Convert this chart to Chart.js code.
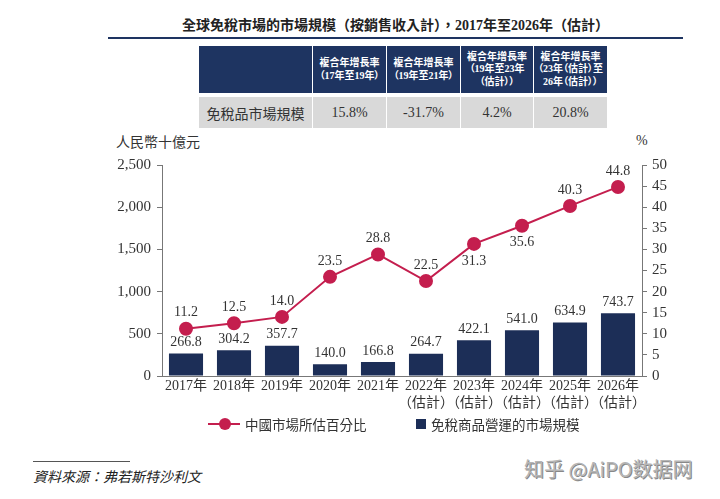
<!DOCTYPE html>
<html>
<head>
<meta charset="utf-8">
<script src="https://cdn.jsdelivr.net/npm/chart.js@4"></script>
<style>
  body { margin: 0; width: 720px; height: 499px; background: #fff; overflow: hidden; position: relative;
         font-family: "Liberation Serif", "Noto Sans CJK TC", serif; color: #333; }
  .abs { position: absolute; }
  .title { left: 108px; width: 575px; top: 14px; text-align: center; font-size: 14px; font-weight: bold; color: #222; white-space: nowrap; }
  .title-rule { left: 108px; width: 575px; top: 37px; height: 2px; background: #1e3461; }
  .hd { background: #1e3461; color: #fff; font-size: 10px; font-weight: bold; line-height: 12.5px;
        font-feature-settings: "palt"; white-space: nowrap;
        display: flex; align-items: center; justify-content: center; text-align: center; top: 46px; height: 47px; }
  .row { background: #d9d9d9; font-size: 14px; display: flex; align-items: center; justify-content: center; top: 97px; height: 31px; color: #333; }
  .axis-title { font-size: 14px; color: #333; }
  .legend { top: 414px; font-size: 13.5px; color: #333; white-space: nowrap; }
  #chart { position: absolute; left: 0; top: 150px; }
</style>
</head>
<body>
<div class="abs title">全球免稅市場的市場規模（按銷售收入計），2017年至2026年（估計）</div>
<div class="abs title-rule"></div>

<div id="table"></div>

<div class="abs axis-title" style="left:116px; top:131px;">人民幣十億元</div>
<div class="abs axis-title" style="left:636px; top:133px;">%</div>

<canvas id="chart" width="720" height="265"></canvas>

<div class="abs legend" style="left:208px;">
  <span style="position:absolute; left:0; top:9px; width:32px; height:2px; background:#c41e4e;"></span>
  <span style="position:absolute; left:11px; top:4px; width:12px; height:12px; border-radius:50%; background:#c41e4e;"></span>
  <span style="position:absolute; left:37px; top:0;">中國市場所估百分比</span>
</div>
<div class="abs legend" style="left:416px;">
  <span style="position:absolute; left:0; top:5px; width:10px; height:10px; background:#1c2e57;"></span>
  <span style="position:absolute; left:15px; top:0;">免稅商品營運的市場規模</span>
</div>

<div class="abs" style="left:33px; top:461px; width:97px; height:1px; background:#555;"></div>
<div class="abs" style="left:33px; top:466px; font-size:14px; font-style:italic; color:#222;">資料來源：弗若斯特沙利文</div>
<div class="abs" style="left:524px; top:454px; font-family:'Noto Sans CJK SC', sans-serif; font-size:20px; color:#b5b5b5; text-shadow:1px 1px 0 #888;">知乎 @AiPO数据网</div>

<script>
// data
const years = [['2017年'], ['2018年'], ['2019年'], ['2020年'], ['2021年'],
  ['2022年', '（估計）'], ['2023年', '（估計）'], ['2024年', '（估計）'], ['2025年', '（估計）'], ['2026年', '（估計）']];
const marketSize = [266.8, 304.2, 357.7, 140.0, 166.8, 264.7, 422.1, 541.0, 634.9, 743.7];
const chinaShare = [11.2, 12.5, 14.0, 23.5, 28.8, 22.5, 31.3, 35.6, 40.3, 44.8];
const shareLabelBelow = [6, 7];

const cagrHeaders = ['複合年增長率<br>（17年至19年）', '複合年增長率<br>（19年至21年）',
  '複合年增長率<br>（19年至23年<br>（估計））', '複合年增長率<br>（23年（估計）至<br>26年（估計））'];
const cagrValues = ['15.8%', '-31.7%', '4.2%', '20.8%'];
const rowName = '免稅品市場規模';

// table
const colX = [[199, 113], [313, 73], [387, 73], [461, 72], [534, 73]];
let html = '';
colX.forEach((c, i) => {
  const head = i === 0 ? '' : cagrHeaders[i - 1];
  const cell = i === 0 ? rowName : cagrValues[i - 1];
  html += `<div class="abs hd" style="left:${c[0]}px;width:${c[1]}px;">${head}</div>`;
  html += `<div class="abs row" style="left:${c[0]}px;width:${c[1]}px;">${cell}</div>`;
});
document.getElementById('table').innerHTML = html;

const serif = '"Liberation Serif", "Noto Sans CJK TC", serif';

const valueLabels = {
  id: 'valueLabels',
  afterDatasetsDraw(chart) {
    const ctx = chart.ctx;
    ctx.save();
    ctx.font = '14px ' + serif;
    ctx.fillStyle = '#333';
    ctx.textAlign = 'center';
    ctx.textBaseline = 'middle';
    chart.data.datasets.forEach((ds, i) => {
      const meta = chart.getDatasetMeta(i);
      meta.data.forEach((el, j) => {
        let y;
        if (ds.type === 'line') {
          y = shareLabelBelow.includes(j) ? el.y + 17 : el.y - 16;
        } else {
          y = el.y - 11;
        }
        ctx.fillText(ds.data[j].toFixed(1), el.x, y);
      });
    });
    ctx.restore();
  }
};

new Chart(document.getElementById('chart'), {
  data: {
    labels: years,
    datasets: [
      {
        type: 'line',
        label: '中國市場所估百分比',
        data: chinaShare,
        yAxisID: 'yR',
        borderColor: '#c41e4e',
        backgroundColor: '#c41e4e',
        borderWidth: 2,
        pointRadius: 6,
        pointHoverRadius: 6,
        tension: 0,
        order: 0
      },
      {
        type: 'bar',
        label: '免稅商品營運的市場規模',
        data: marketSize,
        yAxisID: 'y',
        backgroundColor: '#1c2e57',
        barPercentage: 0.71,
        categoryPercentage: 1,
        order: 1
      }
    ]
  },
  options: {
    responsive: false,
    animation: false,
    layout: { padding: { top: 12, left: 0, right: 0, bottom: 0 } },
    plugins: { legend: { display: false }, tooltip: { enabled: false } },
    scales: {
      x: {
        grid: { display: false, drawTicks: false },
        border: { display: true, color: '#777', width: 1 },
        ticks: { color: '#333', font: { family: serif, size: 14 }, padding: 2, maxRotation: 0, autoSkip: false },
        afterFit: s => { s.height = 39; }
      },
      y: {
        position: 'left',
        min: 0, max: 2500,
        grid: { drawOnChartArea: false, tickLength: 5, color: '#777' },
        border: { display: true, color: '#777', width: 1 },
        ticks: { stepSize: 500, color: '#333', font: { family: serif, size: 15 }, padding: 6,
                 callback: v => v.toLocaleString('en-US') },
        afterFit: s => { s.width = 162; }
      },
      yR: {
        position: 'right',
        min: 0, max: 50,
        grid: { drawOnChartArea: false, tickLength: 5, color: '#777' },
        border: { display: true, color: '#777', width: 1 },
        ticks: { stepSize: 5, color: '#333', font: { family: serif, size: 15 }, padding: 5 },
        afterFit: s => { s.width = 78; }
      }
    }
  },
  plugins: [valueLabels]
});
</script>
</body>
</html>
